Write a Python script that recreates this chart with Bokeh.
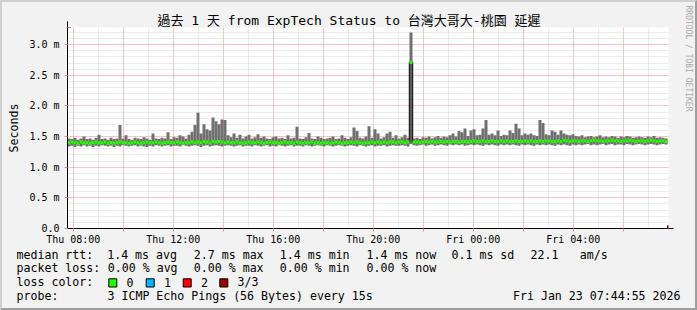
import math
import numpy as np
from bokeh.plotting import figure
from bokeh.layouts import column, row
from bokeh.models import Range1d, FixedTicker, Arrow, NormalHead, ColumnDataSource
from bokeh.core.properties import value
from bokeh.embed import file_html
from bokeh.resources import INLINE

# ---------------- data ----------------
title_text = "過去 1 天 from ExpTech Status to 台灣大哥大-桃園 延遲"
start_hour = 7.77          # hours after Thu 00:00 at the left edge
step_hours = 0.12          # one consolidated step

smoke_hi = [
    1.47, 1.46, 1.48, 1.45, 1.47, 1.50, 1.46, 1.47, 1.45, 1.48,
    1.53, 1.46, 1.47, 1.45, 1.48, 1.46, 1.47, 1.69, 1.47, 1.52,
    1.46, 1.45, 1.48, 1.47, 1.46, 1.49, 1.47, 1.45, 1.55, 1.47,
    1.46, 1.48, 1.47, 1.57, 1.46, 1.49, 1.48, 1.52, 1.50, 1.47,
    1.53, 1.58, 1.69, 1.89, 1.55, 1.70, 1.62, 1.60, 1.81, 1.75,
    1.70, 1.78, 1.77, 1.52, 1.49, 1.55, 1.48, 1.53, 1.47, 1.50,
    1.53, 1.47, 1.49, 1.54, 1.48, 1.50, 1.47, 1.46, 1.49, 1.50,
    1.47, 1.48, 1.46, 1.52, 1.47, 1.48, 1.66, 1.47, 1.46, 1.49,
    1.56, 1.47, 1.46, 1.50, 1.48, 1.46, 1.47, 1.48, 1.50, 1.46,
    1.47, 1.52, 1.48, 1.46, 1.49, 1.65, 1.59, 1.48, 1.47, 1.50,
    1.67, 1.48, 1.62, 1.55, 1.47, 1.49, 1.55, 1.58, 1.48, 1.52,
    1.47, 1.49, 1.53, 1.48, 3.20, 1.47, 1.48, 1.46, 1.49, 1.48,
    1.50, 1.47, 1.49, 1.51, 1.48, 1.50, 1.49, 1.52, 1.55, 1.50,
    1.59, 1.57, 1.63, 1.51, 1.60, 1.62, 1.52, 1.53, 1.63, 1.77,
    1.53, 1.55, 1.52, 1.60, 1.51, 1.53, 1.52, 1.60, 1.56, 1.71,
    1.63, 1.52, 1.55, 1.53, 1.55, 1.52, 1.51, 1.77, 1.72, 1.54,
    1.52, 1.60, 1.58, 1.53, 1.60, 1.55, 1.53, 1.52, 1.54, 1.51,
    1.50, 1.52, 1.49, 1.50, 1.51, 1.49, 1.50, 1.52, 1.49, 1.50,
    1.49, 1.51, 1.50, 1.48, 1.50, 1.49, 1.51, 1.50, 1.48, 1.49,
    1.50, 1.49, 1.48, 1.50, 1.49, 1.51, 1.48, 1.49, 1.48, 1.47,
]
smoke_lo = [
    1.34, 1.35, 1.33, 1.35, 1.34, 1.36, 1.34, 1.35, 1.33, 1.35,
    1.34, 1.36, 1.35, 1.34, 1.35, 1.33, 1.35, 1.34, 1.36, 1.35,
    1.34, 1.35, 1.36, 1.34, 1.35, 1.34, 1.33, 1.35, 1.34, 1.36,
    1.35, 1.34, 1.35, 1.36, 1.34, 1.35, 1.35, 1.34, 1.36, 1.35,
    1.34, 1.35, 1.36, 1.35, 1.33, 1.35, 1.36, 1.34, 1.35, 1.36,
    1.35, 1.34, 1.35, 1.36, 1.35, 1.34, 1.35, 1.36, 1.34, 1.35,
    1.35, 1.34, 1.36, 1.35, 1.34, 1.35, 1.36, 1.34, 1.35, 1.34,
    1.36, 1.35, 1.34, 1.35, 1.36, 1.34, 1.35, 1.35, 1.34, 1.36,
    1.35, 1.34, 1.35, 1.36, 1.35, 1.34, 1.36, 1.35, 1.34, 1.35,
    1.36, 1.35, 1.34, 1.35, 1.36, 1.35, 1.34, 1.36, 1.35, 1.34,
    1.35, 1.36, 1.34, 1.35, 1.35, 1.36, 1.34, 1.35, 1.36, 1.35,
    1.35, 1.36, 1.35, 1.34, 1.38, 1.36, 1.35, 1.36, 1.37, 1.35,
    1.36, 1.37, 1.35, 1.36, 1.37, 1.36, 1.35, 1.37, 1.36, 1.37,
    1.36, 1.37, 1.35, 1.36, 1.37, 1.36, 1.37, 1.36, 1.35, 1.37,
    1.36, 1.37, 1.36, 1.35, 1.37, 1.36, 1.37, 1.36, 1.37, 1.36,
    1.35, 1.37, 1.36, 1.37, 1.36, 1.35, 1.37, 1.36, 1.37, 1.36,
    1.37, 1.36, 1.35, 1.37, 1.36, 1.37, 1.36, 1.35, 1.37, 1.36,
    1.37, 1.36, 1.37, 1.38, 1.36, 1.37, 1.36, 1.37, 1.38, 1.36,
    1.37, 1.38, 1.36, 1.37, 1.37, 1.36, 1.38, 1.37, 1.36, 1.37,
    1.38, 1.37, 1.36, 1.37, 1.38, 1.37, 1.36, 1.37, 1.38, 1.37,
]
median_rtt = [
    1.40, 1.41, 1.40, 1.39, 1.41, 1.40, 1.40, 1.39, 1.40, 1.41,
    1.40, 1.40, 1.41, 1.39, 1.40, 1.39, 1.40, 1.41, 1.40, 1.40,
    1.39, 1.40, 1.41, 1.40, 1.39, 1.40, 1.41, 1.40, 1.40, 1.41,
    1.40, 1.39, 1.40, 1.41, 1.40, 1.40, 1.41, 1.40, 1.39, 1.40,
    1.40, 1.41, 1.40, 1.41, 1.40, 1.42, 1.41, 1.40, 1.42, 1.41,
    1.42, 1.41, 1.40, 1.41, 1.40, 1.40, 1.41, 1.40, 1.39, 1.40,
    1.41, 1.40, 1.40, 1.41, 1.40, 1.39, 1.40, 1.41, 1.40, 1.40,
    1.39, 1.40, 1.41, 1.40, 1.40, 1.39, 1.41, 1.40, 1.39, 1.40,
    1.40, 1.41, 1.39, 1.40, 1.39, 1.40, 1.40, 1.39, 1.40, 1.41,
    1.40, 1.39, 1.40, 1.40, 1.41, 1.40, 1.41, 1.40, 1.39, 1.40,
    1.40, 1.41, 1.40, 1.41, 1.40, 1.41, 1.40, 1.41, 1.41, 1.40,
    1.41, 1.41, 1.40, 1.41, 2.71, 1.41, 1.41, 1.40, 1.41, 1.42,
    1.41, 1.42, 1.41, 1.41, 1.42, 1.41, 1.42, 1.41, 1.42, 1.42,
    1.41, 1.42, 1.42, 1.41, 1.42, 1.43, 1.42, 1.42, 1.43, 1.42,
    1.42, 1.43, 1.42, 1.42, 1.43, 1.42, 1.43, 1.42, 1.42, 1.43,
    1.42, 1.42, 1.43, 1.42, 1.43, 1.42, 1.42, 1.43, 1.42, 1.43,
    1.43, 1.42, 1.42, 1.43, 1.42, 1.44, 1.43, 1.42, 1.43, 1.43,
    1.42, 1.43, 1.43, 1.42, 1.43, 1.44, 1.43, 1.43, 1.42, 1.43,
    1.43, 1.44, 1.43, 1.43, 1.42, 1.43, 1.43, 1.44, 1.43, 1.42,
    1.43, 1.43, 1.42, 1.43, 1.44, 1.43, 1.42, 1.43, 1.43, 1.42,
]

x_tick_hours = [8, 10, 12, 14, 16, 18, 20, 22, 24, 26, 28, 30]
x_tick_labels = ["Thu 08:00", "", "Thu 12:00", "", "Thu 16:00", "", "Thu 20:00", "",
                 "Fri 00:00", "", "Fri 04:00", ""]
y_tick_values = [0, 0.5, 1, 1.5, 2, 2.5, 3]
y_tick_labels = ["0.0", "0.5 m", "1.0 m", "1.5 m", "2.0 m", "2.5 m", "3.0 m"]
y_title = "Seconds"

rtt_stats = ["1.4 ms avg", "2.7 ms max", "1.4 ms min", "1.4 ms now", "0.1 ms sd", "22.1", "am/s"]
loss_stats = ["0.00 % avg", "0.00 % max", "0.00 % min", "0.00 % now"]
loss_labels = ["0", "1", "2", "3/3"]
loss_colors = ["#26ff00", "#00b8ff", "#ff0000", "#a00000"]
probe_text = "3 ICMP Echo Pings (56 Bytes) every 15s"
date_text = "Fri Jan 23 07:44:55 2026"
watermark = "RRDTOOL / TOBI OETIKER"

# ---------------- layout constants (page pixels) ----------------
FONT = "DejaVu Sans Mono, Noto Sans CJK TC, monospace"
BACK = "#f2f2f2"
MAIN_W, MAIN_H = 673, 246     # page x 2..675, y 2..248
RIGHT_W = 20                  # page x 675..695
LEG_H = 60                    # page y 248..308
x_end = 31.81
y_end = 3.28

n = len(median_rtt)
t0 = start_hour + step_hours * np.arange(n)
t1 = t0 + step_hours
med = np.array(median_rtt)
src = ColumnDataSource(dict(t0=t0, t1=t1, lo=smoke_lo, hi=smoke_hi, med=med,
                            mlo=med - 0.024, mhi=med + 0.024))

# ---------------- main chart ----------------
p = figure(width=MAIN_W, height=MAIN_H, x_range=Range1d(start_hour, x_end),
           y_range=Range1d(0, y_end), output_backend="svg", toolbar_location=None,
           title=title_text, frame_align=False,
           min_border_left=65, min_border_right=7, min_border_top=25, min_border_bottom=20)
p.background_fill_color = "white"
p.border_fill_color = BACK
p.outline_line_color = None
p.title.text_font = FONT
p.title.text_font_size = "13px"
p.title.text_font_style = "normal"
p.title.text_color = "#000000"
p.title.align = "left"
p.title.offset = 90
p.title.standoff = 0

p.quad(left="t0", right="t1", bottom="lo", top="hi", source=src,
       fill_color="#707070", line_color=None)
p.step(x="t0", y="med", source=src, mode="after", line_color="#202020", line_width=1.5)
p.quad(left="t0", right="t1", bottom="mlo", top="mhi", source=src,
       fill_color="#26ff00", line_color=None)

minor_x = [h for h in range(8, 32) if h % 2 == 1]
p.xaxis.ticker = FixedTicker(ticks=x_tick_hours, minor_ticks=minor_x)
p.xaxis.major_label_overrides = {h: l for h, l in zip(x_tick_hours, x_tick_labels)}
minor_y = [round(k * 0.1, 1) for k in range(1, 33) if k % 5 != 0]
p.yaxis.ticker = FixedTicker(ticks=y_tick_values, minor_ticks=minor_y)
p.yaxis.major_label_overrides = {v: l for v, l in zip(y_tick_values, y_tick_labels)}

for ax in (p.xaxis[0], p.yaxis[0]):
    ax.axis_line_color = "black"
    ax.major_tick_in = 0
    ax.major_tick_out = 3
    ax.major_tick_line_color = "#e89090"
    ax.minor_tick_in = 0
    ax.minor_tick_out = 0
    ax.major_label_text_font = FONT
    ax.major_label_text_font_size = "10px"
    ax.major_label_text_color = "#000000"
p.xaxis.major_label_standoff = 2
p.yaxis.major_label_standoff = 5
p.yaxis.axis_label = y_title
p.yaxis.axis_label_text_font = FONT
p.yaxis.axis_label_text_font_size = "11.6px"
p.yaxis.axis_label_text_font_style = "normal"
p.yaxis.axis_label_text_color = "#000000"
p.yaxis.axis_label_standoff = 5

for g in (p.xgrid[0], p.ygrid[0]):
    g.grid_line_color = "#f08c8c"
    g.grid_line_dash = "1 1"
    g.minor_grid_line_color = "#d6d6d6"
    g.minor_grid_line_dash = "1 1"

p.add_layout(Arrow(x_start=start_hour, y_start=y_end, x_end=start_hour, y_end=y_end + 0.1,
                   line_color="black", line_width=1,
                   end=NormalHead(size=6, fill_color="#8b0000", line_color="#8b0000")))
p.add_layout(Arrow(x_start=x_end, y_start=0, x_end=x_end + 0.2, y_end=0,
                   line_color="black", line_width=1,
                   end=NormalHead(size=6, fill_color="#8b0000", line_color="#8b0000")))

def blank_panel(w, h, xr, yr):
    f = figure(width=w, height=h, x_range=xr, y_range=yr, title=None, frame_align=False,
               output_backend="svg", toolbar_location=None, x_axis_location=None,
               y_axis_location=None, min_border=0)
    f.min_border_left = f.min_border_right = f.min_border_top = f.min_border_bottom = 0
    f.background_fill_color = BACK
    f.border_fill_color = BACK
    f.outline_line_color = None
    f.grid.visible = False
    return f

# ---------------- watermark strip (page coordinates) ----------------
pr = blank_panel(RIGHT_W, MAIN_H, Range1d(675, 695), Range1d(248, 2))
pr.text(x=[688], y=[5], text=[watermark], angle=-math.pi / 2, text_align="left",
        text_baseline="middle", text_font=value(FONT), text_font_size="8px",
        text_color="#a8a8a8")

# ---------------- legend (page coordinates) ----------------
pl = blank_panel(MAIN_W + RIGHT_W, LEG_H, Range1d(2, 695), Range1d(308, 248))

row_y = [254.3, 267.7, 281.7, 295.7]
lx, ly, lt = [], [], []
def put(x, y, s):
    lx.append(x); ly.append(y); lt.append(s)

put(16, row_y[0], "median rtt:")
for s, x in zip(rtt_stats, [106.7, 193.3, 279.3, 366, 451, 530, 579.3]):
    put(x, row_y[0], s)
put(16, row_y[1], "packet loss:")
for s, x in zip(loss_stats, [107.3, 193.3, 279.3, 366]):
    put(x, row_y[1], s)
put(16, row_y[2], "loss color:")
sq_x = [108.3, 145.7, 182.7, 219.3]
for lab, x in zip(loss_labels, sq_x):
    put(x + 17.7, row_y[2], lab)
put(16, row_y[3], "probe:")
put(107, row_y[3], probe_text)

pl.text(x=lx, y=ly, text=lt, text_align="left", text_baseline="middle",
        text_font=value(FONT), text_font_size="11.6px", text_color="#000000")
pl.text(x=[680], y=[row_y[3]], text=[date_text], text_align="right", text_baseline="middle",
        text_font=value(FONT), text_font_size="11.6px", text_color="#000000")
pl.quad(left=sq_x, right=[x + 8 for x in sq_x], top=[278.3] * 4, bottom=[286.5] * 4,
        fill_color=loss_colors, line_color="black", line_width=1)

layout = column(row(p, pr, spacing=0), pl, spacing=0,
                styles={"border-style": "solid", "border-width": "2px",
                        "border-color": "#cfcfcf #9e9e9e #9e9e9e #cfcfcf",
                        "background-color": BACK})

open("out.html", "w").write(file_html(layout, INLINE))
